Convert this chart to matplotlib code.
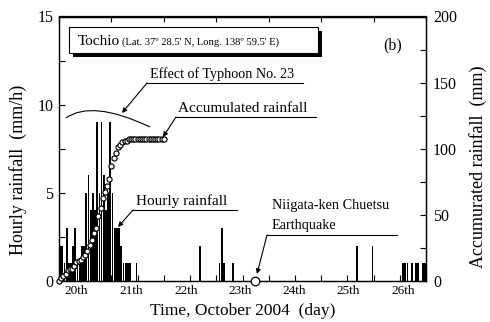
import numpy as np
import matplotlib
matplotlib.use("Agg")
import matplotlib.pyplot as plt
from matplotlib.patches import Rectangle, PathPatch
from matplotlib.path import Path
from matplotlib.lines import Line2D

plt.rcParams['font.family'] = ['Liberation Serif', 'DejaVu Serif']

# ---------------- data ----------------
start_day = 20.0
# hour index since 20th 00:00 and hourly rainfall (mm/h)
rain_hours = list(range(36)) + [64, 73, 74, 75, 79, 136, 143,
                                157, 158, 159, 161, 163, 164, 166, 167]
rain_mm = [2, 2, 1, 3, 1, 1, 2, 3, 1, 1, 2, 2,
           5, 6, 4, 5, 4, 9, 5, 9, 6, 4, 5, 9,
           5, 3, 3, 3, 2, 1, 1, 1, 1, 0, 0, 1] + \
          [2, 1, 3, 1, 1, 2, 2,
           1, 1, 1, 1, 1, 1, 1, 1]
# accumulated rainfall (mm), hourly from 20th 00:00
acc_hours = list(range(49))
acc_mm = [0, 2, 4, 5, 8, 9, 9, 11, 14, 15, 16, 18,
          20, 23, 27, 31, 36, 40, 49, 55, 63, 67, 72, 77,
          87, 93, 97, 101, 103, 105, 106, 106, 107, 107, 107, 107,
          107, 107, 107, 107, 107, 107, 107, 107, 107, 107, 107, 107, 107]
quake_day = 23.747   # 23rd 17:56
day_labels = ['20th', '21th', '22th', '23th', '24th', '25th', '26th']
day_label_pos = [20.32, 21.38, 22.43, 23.46, 24.49, 25.51, 26.56]

# ---------------- figure ----------------
W, H = 490, 322
fig = plt.figure(figsize=(W / 100, H / 100), dpi=100)
ax = fig.add_axes([59 / W, 1 - 281 / H, 367 / W, 264.5 / H])


def fp(px, py):
    return (px / W, 1 - py / H)


rx = start_day + (np.array(rain_hours) + 0.5) / 24.0
ax.bar(rx, rain_mm, width=0.82 / 24.0, color='black', linewidth=0)
ax.set_xlim(20, 27)
ax.set_ylim(0, 15)

ax2 = ax.twinx()
ax2.set_ylim(0, 200)
ax2.plot(start_day + np.array(acc_hours) / 24.0, acc_mm, 'o', ms=3.7,
         mfc='white', mec='black', mew=0.85, clip_on=False, zorder=3)
ax2.plot([quake_day], [0], 'o', ms=6.2, mfc='white', mec='black', mew=0.9,
         clip_on=False, zorder=5)

for a in (ax, ax2):
    for s in a.spines.values():
        s.set_linewidth(0.9)

# ticks
ax.set_yticks([0, 5, 10, 15])
ax.set_yticks(np.arange(0, 15.01, 2.5), minor=True)
ax.tick_params(axis='y', which='both', direction='in', length=4, width=0.8,
               labelsize=11.5, pad=4)
ax2.set_yticks([0, 50, 100, 150, 200])
ax2.set_yticks(np.arange(0, 200.01, 25), minor=True)
ax2.tick_params(axis='y', which='both', direction='in', length=4, width=0.8,
                labelsize=11.5, pad=5)
ax.set_xticks(day_label_pos, day_labels)
ax.set_xticks(np.arange(20, 27.01, 0.5), minor=True)
ax.tick_params(axis='x', which='major', length=0, labelsize=9.5, pad=3)
ax.tick_params(axis='x', which='minor', direction='in', length=4, width=0.8)
sec = ax.secondary_xaxis('top')
sec.set_xticks(np.arange(20, 27.01, 1.0))
sec.tick_params(axis='x', direction='in', length=4, width=0.8, labeltop=False)
sec.spines['top'].set_linewidth(0.9)

# axis labels
fig.text(*fp(18, 170), 'Hourly rainfall  (mm/h)', rotation=90,
         ha='center', va='center', fontsize=13)
fig.text(*fp(478, 167), 'Accumurated rainfall  (mm)', rotation=90,
         ha='center', va='center', fontsize=13)
fig.text(*fp(243, 311), 'Time, October 2004  (day)', ha='center',
         va='center', fontsize=12.5)

# title box with shadow
fig.add_artist(Rectangle(fp(72.5, 57), 249 / W, 26 / H,
                         transform=fig.transFigure, facecolor='black',
                         edgecolor='black', lw=0, zorder=4))
fig.add_artist(Rectangle(fp(69, 53), 249 / W, 26 / H,
                         transform=fig.transFigure, facecolor='white',
                         edgecolor='black', lw=0.8, zorder=5))
fig.text(*fp(78, 45), 'Tochio', fontsize=11, ha='left', va='baseline',
         zorder=6)
fig.text(*fp(122, 45), "(Lat. 37\u00ba 28.5' N, Long. 138\u00ba 59.5' E)",
         fontsize=7.6, ha='left', va='baseline', zorder=6)
fig.text(*fp(393, 45), '(b)', fontsize=11.5, ha='center', va='center')

# typhoon arc
p0, p1, p2 = fp(66, 118), fp(92, 99.5), fp(150, 127)
fig.add_artist(PathPatch(Path([p0, p1, p2], [Path.MOVETO, Path.CURVE3, Path.CURVE3]),
                         transform=fig.transFigure, fill=False,
                         edgecolor='black', lw=0.8))

arrow = dict(arrowstyle='-|>', lw=0.8, color='black', mutation_scale=7,
             shrinkA=0, shrinkB=0)


def callout(text_lines, tx, ty_list, line_x0, line_x1, line_y, tip, fs):
    for t, ty in zip(text_lines, ty_list):
        fig.text(*fp(tx, ty), t, fontsize=fs, ha='left', va='baseline')
    fig.add_artist(Line2D([line_x0 / W, line_x1 / W], [1 - line_y / H] * 2,
                          transform=fig.transFigure, color='black', lw=0.8))
    fig.add_artist(matplotlib.text.Annotation(
        '', xy=fp(*tip), xycoords='figure fraction',
        xytext=fp(line_x0, line_y), textcoords='figure fraction',
        arrowprops=arrow, annotation_clip=False))


callout(['Effect of Typhoon No. 23'], 150, [78], 147, 303, 83, (122, 113), 10.2)
callout(['Accumulated rainfall'], 178, [112], 176, 316, 117, (163, 137), 11)
callout(['Hourly rainfall'], 136, [205], 133, 237, 210, (118, 227), 11)
callout(['Niigata-ken Chuetsu', 'Earthquake'], 272, [209, 229],
        267, 397, 235, (257, 274), 10.3)

fig.savefig('out.png', dpi=100)
